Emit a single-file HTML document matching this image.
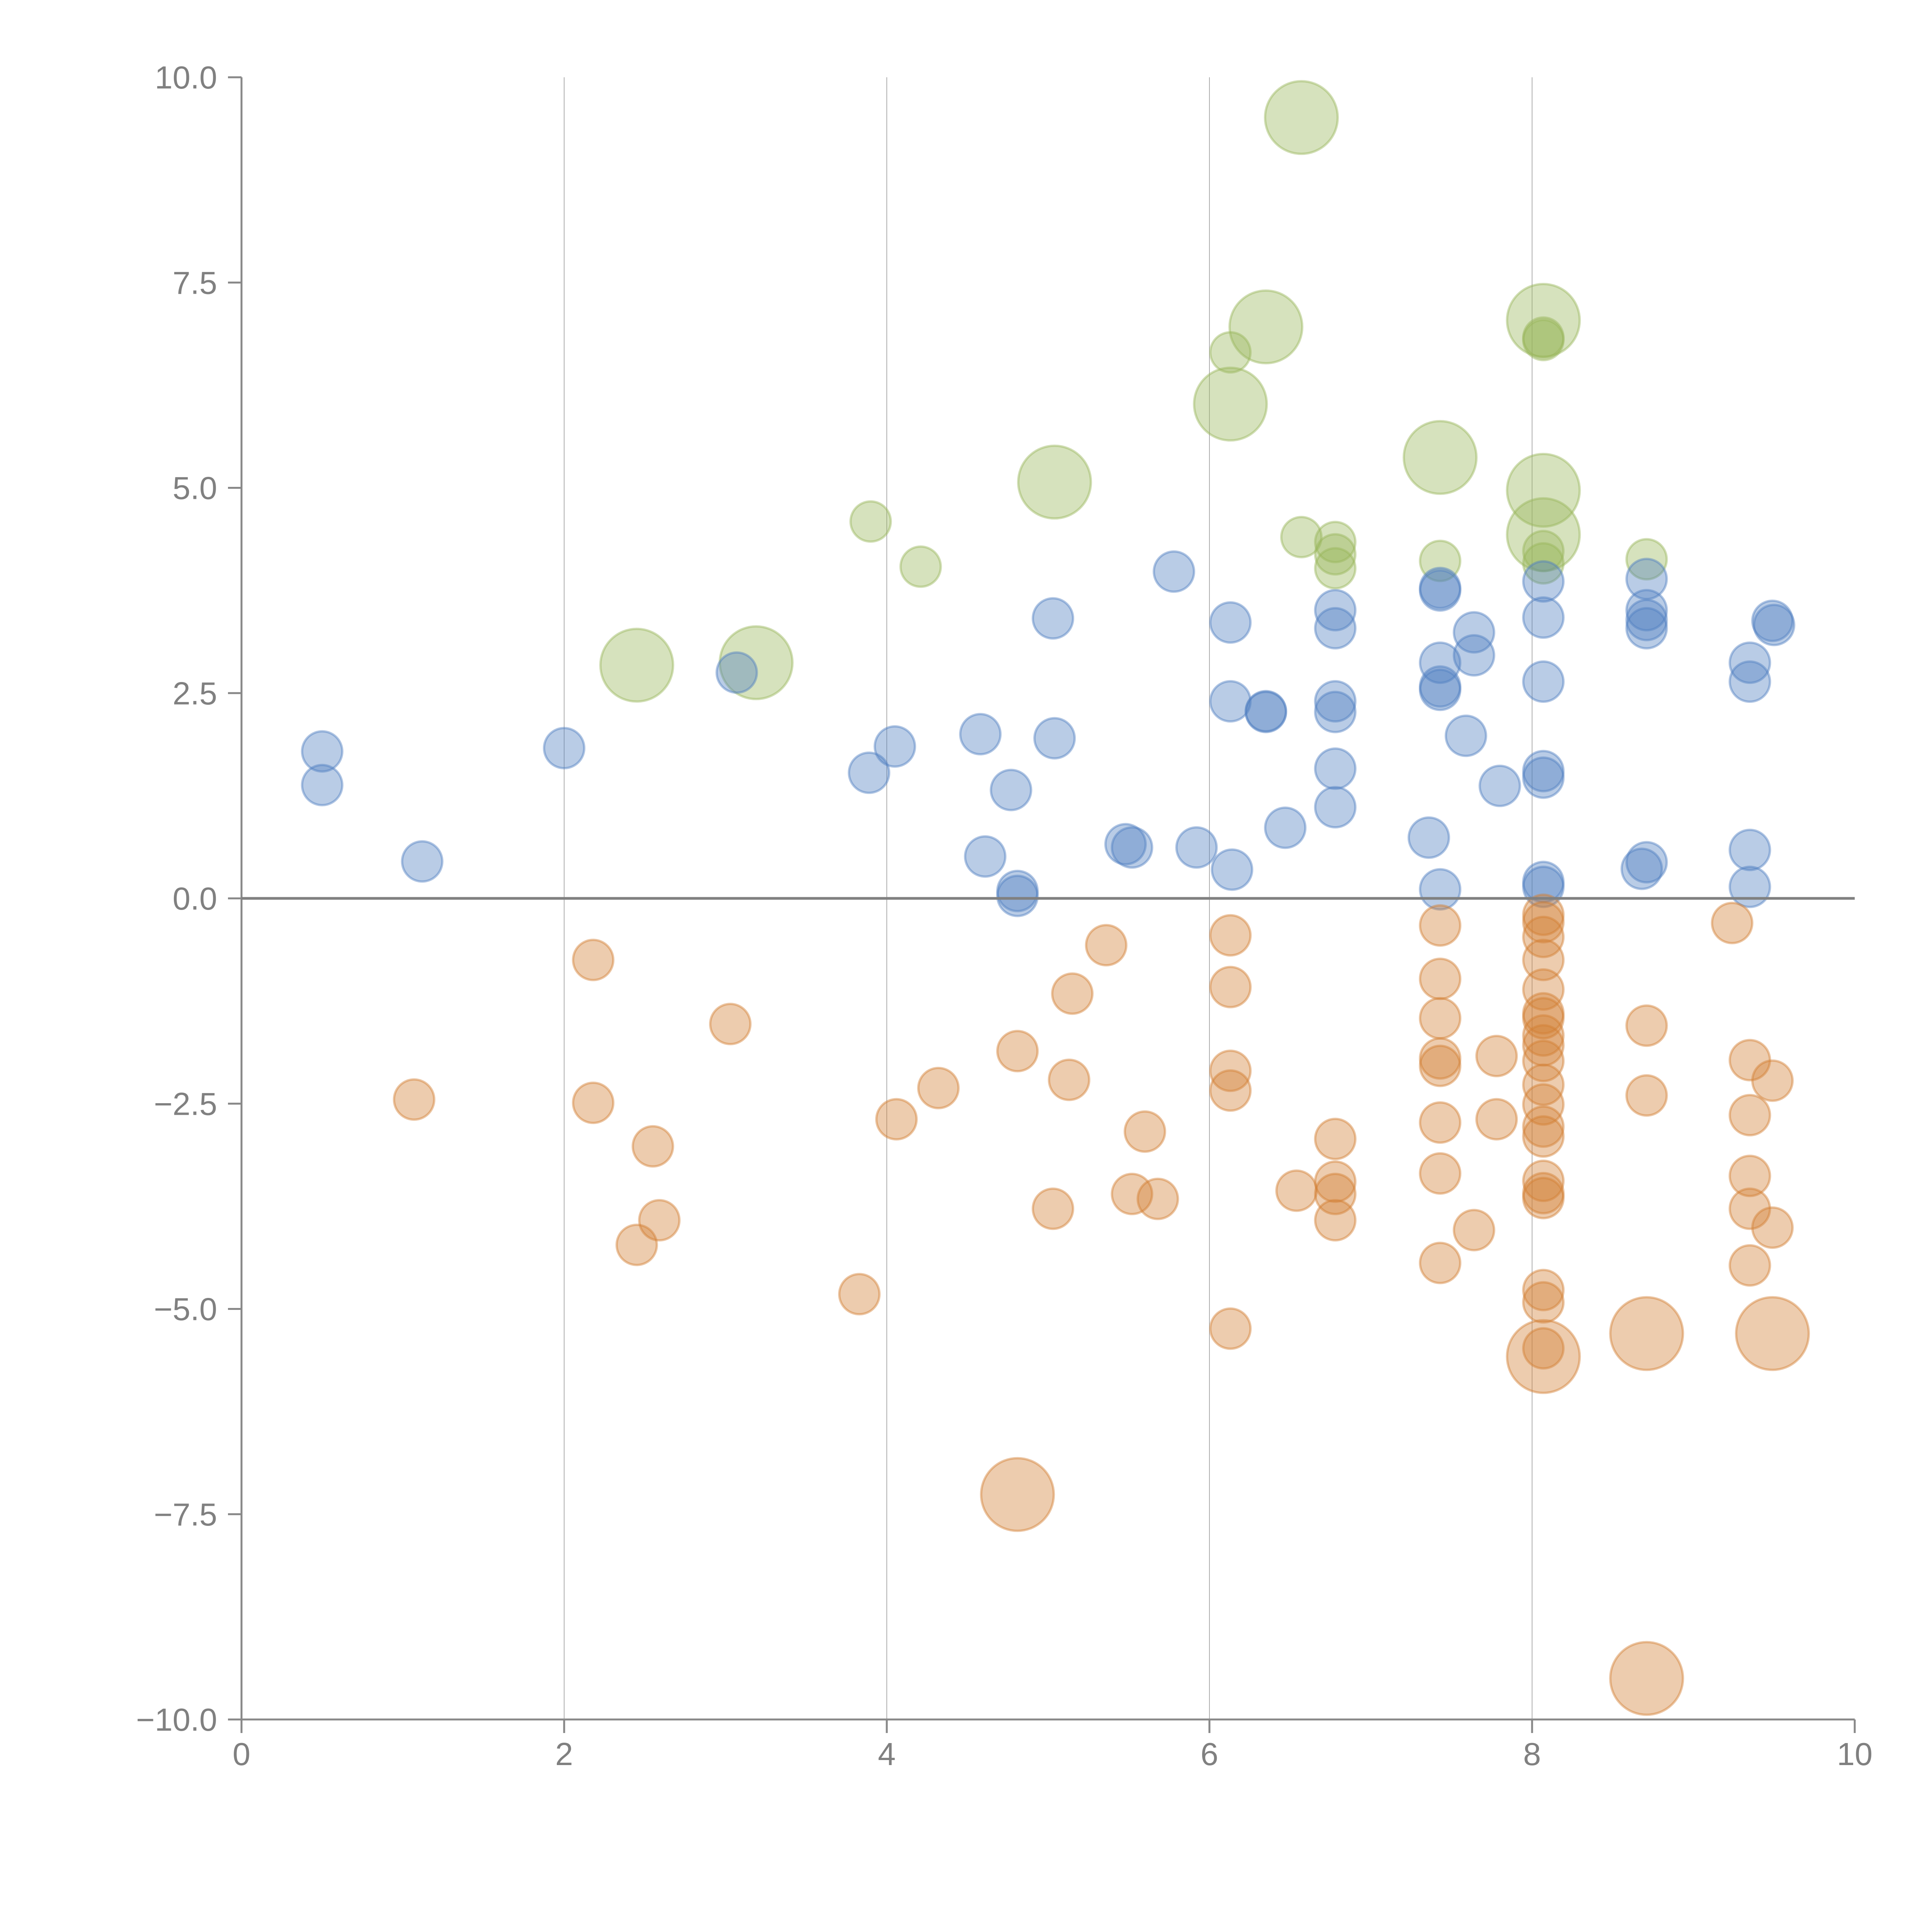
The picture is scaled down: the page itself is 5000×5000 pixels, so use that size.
<!DOCTYPE html>
<html><head><meta charset="utf-8"><style>
html,body{margin:0;padding:0;background:#fff;}
svg{display:block;}
text{font-family:"Liberation Sans",Arial,sans-serif;fill:#808080;}
</style></head><body>
<svg id="chart" width="5000" height="5000" viewBox="0 0 5000 5000" xmlns="http://www.w3.org/2000/svg">
<g id="grid"></g>
<g id="axes"></g>
<g id="marks"></g>
</svg>
<script>
const xTicks=[0,2,4,6,8,10];
const xTickLabels=["0","2","4","6","8","10"];
const yTicks=[-10,-7.5,-5,-2.5,0,2.5,5,7.5,10];
const yTickLabels=["\u221210.0","\u22127.5","\u22125.0","\u22122.5","0.0","2.5","5.0","7.5","10.0"];
const gridX=[2,4,6,8];
const blueX=[0.5,0.5,1.12,2.0,3.07,3.89,4.05,4.58,4.61,4.77,4.81,4.81,5.03,5.04,5.48,5.52,5.78,5.92,6.13,6.13,6.14,6.35,6.35,6.47,6.78,6.78,6.78,6.78,6.78,6.78,7.36,7.43,7.43,7.43,7.43,7.43,7.43,7.59,7.64,7.64,7.8,8.07,8.07,8.07,8.07,8.07,8.07,8.07,8.68,8.71,8.71,8.71,8.71,8.71,9.35,9.35,9.35,9.35,9.49,9.5];
const blueY=[1.79,1.38,0.45,1.83,2.75,1.53,1.85,2.0,0.51,1.32,0.09,0.03,3.41,1.95,0.66,0.62,3.98,0.62,3.36,2.4,0.35,2.28,2.27,0.86,3.51,3.29,2.4,2.27,1.58,1.11,0.74,3.78,3.75,2.87,2.58,2.54,0.11,1.98,3.24,2.96,1.37,3.86,3.42,2.64,1.55,1.47,0.2,0.14,0.36,0.44,3.89,3.51,3.39,3.29,2.87,2.64,0.59,0.14,3.38,3.33];
const greenX=[3.9,4.21,2.45,3.19,5.04,6.13,6.13,6.35,6.57,6.57,6.78,6.78,6.78,7.43,7.43,8.07,8.07,8.07,8.07,8.07,8.07,8.07,8.71];
const greenY=[4.59,4.04,2.84,2.87,5.07,6.02,6.65,6.96,9.51,4.4,4.34,4.19,4.02,5.37,4.11,7.04,6.83,6.8,4.97,4.43,4.23,4.08,4.13];
const greenBig=[0,0,1,1,1,1,0,1,1,0,0,0,0,1,0,1,0,0,1,1,0,0,0];
const orangeX=[1.07,2.18,2.18,2.45,2.55,2.59,3.03,3.83,4.06,4.32,4.81,4.81,5.03,5.13,5.15,5.36,5.52,5.6,5.68,6.13,6.13,6.13,6.13,6.13,6.54,6.78,6.78,6.78,6.78,7.43,7.43,7.43,7.43,7.43,7.43,7.43,7.43,7.64,7.78,7.78,8.07,8.07,8.07,8.07,8.07,8.07,8.07,8.07,8.07,8.07,8.07,8.07,8.07,8.07,8.07,8.07,8.07,8.07,8.07,8.07,8.07,8.71,8.71,8.71,8.71,9.24,9.35,9.35,9.35,9.35,9.35,9.49,9.49,9.49];
const orangeY=[-2.45,-0.75,-2.49,-4.22,-3.02,-3.92,-1.53,-4.82,-2.69,-2.31,-1.86,-7.26,-3.78,-2.21,-1.16,-0.57,-3.6,-2.84,-3.66,-0.45,-1.08,-2.1,-2.34,-5.24,-3.56,-2.93,-3.45,-3.6,-3.92,-0.33,-0.98,-1.46,-1.95,-2.04,-2.73,-3.35,-4.44,-4.04,-1.92,-2.69,-0.2,-0.29,-0.47,-0.75,-1.11,-1.4,-1.46,-1.67,-1.79,-1.98,-2.27,-2.51,-2.78,-2.9,-3.44,-3.59,-3.65,-4.77,-4.92,-5.48,-5.58,-1.55,-2.4,-5.3,-9.5,-0.3,-1.97,-2.64,-3.38,-3.78,-4.47,-2.22,-4.01,-5.3];
const orangeBig=[0,0,0,0,0,0,0,0,0,0,0,1,0,0,0,0,0,0,0,0,0,0,0,0,0,0,0,0,0,0,0,0,0,0,0,0,0,0,0,0,0,0,0,0,0,0,0,0,0,0,0,0,0,0,0,0,0,0,0,0,1,0,0,1,1,0,0,0,0,0,0,0,0,1];

const NS="http://www.w3.org/2000/svg";
const X0=625,X1=4800,Y0=4450,Y1=200;
function sx(v){return X0+(v-0)/(10-0)*(X1-X0);}
function sy(v){return Y0-(v+10)/20*(Y0-Y1);}
function mk(tag,attrs,parent){const e=document.createElementNS(NS,tag);for(const k in attrs)e.setAttribute(k,attrs[k]);parent.appendChild(e);return e;}
const grid=document.getElementById('grid'),axes=document.getElementById('axes'),marks=document.getElementById('marks');
gridX.forEach(v=>{const l=mk('line',{x1:sx(v),x2:sx(v),y1:Y1,y2:Y0,stroke:'#777','stroke-width':2,'stroke-opacity':0.6},grid);

});
let a=mk('line',{x1:X0,x2:X0,y1:Y1,y2:Y0+35,stroke:'#888','stroke-width':5},axes);


a=mk('line',{x1:X0-35,x2:X1,y1:Y0,y2:Y0,stroke:'#888','stroke-width':5},axes);


yTicks.forEach((v,i)=>{const t=mk('line',{x1:X0-35,x2:X0,y1:sy(v),y2:sy(v),stroke:'#888','stroke-width':5},axes);


const tx=mk('text',{x:562,y:sy(v)+29,'text-anchor':'end','font-size':83},axes);tx.textContent=yTickLabels[i];

});
xTicks.forEach((v,i)=>{const t=mk('line',{x1:sx(v),x2:sx(v),y1:Y0,y2:Y0+35,stroke:'#888','stroke-width':5},axes);


const tx=mk('text',{x:sx(v),y:4568,'text-anchor':'middle','font-size':83},axes);tx.textContent=xTickLabels[i];

});
function draw(xs,ys,big,color,name){xs.forEach((x,i)=>{const r=(big&&big[i])?94:52;
const c=mk('circle',{cx:sx(x),cy:sy(ys[i]),r:r,fill:color,'fill-opacity':0.4,stroke:color,'stroke-opacity':0.45,'stroke-width':6},marks);

});}
draw(greenX,greenY,greenBig,'#98b65a','green-bubble');
draw(blueX,blueY,null,'#4f7fc0','blue-bubble');
draw(orangeX,orangeY,orangeBig,'#d27f34','orange-bubble');
const z=mk('line',{x1:X0,x2:X1,y1:sy(0),y2:sy(0),stroke:'#808080','stroke-width':7},axes);


axes.parentNode.appendChild(axes);
</script>
</body></html>
